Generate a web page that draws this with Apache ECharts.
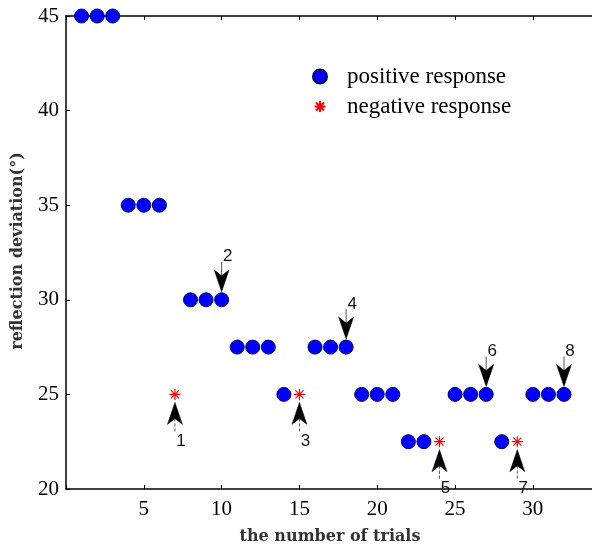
<!DOCTYPE html>
<html>
<head>
<meta charset="utf-8">
<script src="https://cdn.jsdelivr.net/npm/echarts@6/dist/echarts.min.js"></script>
<style>html,body{margin:0;padding:0;background:#fff;}#c{width:592px;height:550px;}</style>
</head>
<body>
<div id="c"></div>
<script>
var posX = [1,2,3,4,5,6,8,9,10,11,12,13,14,16,17,18,19,20,21,22,23,25,26,27,28,30,31,32];
var posY = [45,45,45,35,35,35,30,30,30,27.5,27.5,27.5,25,27.5,27.5,27.5,25,25,25,22.5,22.5,25,25,25,22.5,25,25,25];
var negX = [7,15,24,29];
var negY = [25,25,22.5,22.5];
var arrowX = [7,10,15,18,24,27,29,32];
var arrowY = [25,30,25,27.5,22.5,25,22.5,25];
var arrowDir = ['up','down','up','down','up','down','up','down'];
var arrowLabel = ['1','2','3','4','5','6','7','8'];
var xTicks = [5,10,15,20,25,30];
var yTicks = [20,25,30,35,40,45];

var posData = posX.map(function(x,i){return [x,posY[i]];});
var negData = negX.map(function(x,i){return [x,negY[i]];});
var arrowData = arrowX.map(function(x,i){return [x,arrowY[i],arrowDir[i]==='up'?1:-1,arrowLabel[i]];});

var star = 'path://M0,0M14,14M1.5,7L12.5,7M7,1.5L7,12.5M3,3L11,11M11,3L3,11';

var chart = echarts.init(document.getElementById('c'));
chart.setOption({
  animation:false,
  backgroundColor:'#fff',
  grid:{left:66,top:16,right:0,bottom:61,containLabel:false},
  xAxis:[{
    type:'value',min:0,max:33.8,interval:5,
    axisLine:{show:true,lineStyle:{color:'#000',width:1.5}},
    axisTick:{show:true,inside:true,length:4,lineStyle:{color:'#000'}},
    splitLine:{show:false},
    axisLabel:{color:'#000',fontFamily:'Liberation Serif',fontSize:21,margin:10,showMaxLabel:false,
      formatter:function(v){return xTicks.indexOf(v)>=0?String(v):'';}}
  },{
    type:'value',position:'top',min:0,max:33.8,interval:5,
    axisLine:{show:true,lineStyle:{color:'#000',width:1.5}},
    axisTick:{show:true,inside:true,length:4,lineStyle:{color:'#000'}},
    axisLabel:{show:false},splitLine:{show:false}
  }],
  yAxis:{
    type:'value',min:20,max:45,interval:5,
    axisLine:{show:true,lineStyle:{color:'#000',width:1.5}},
    axisTick:{show:true,inside:true,length:4,lineStyle:{color:'#000'}},
    splitLine:{show:false},
    axisLabel:{color:'#000',fontFamily:'Liberation Serif',fontSize:21,margin:7,
      formatter:function(v){return yTicks.indexOf(v)>=0?String(v):'';}}
  },
  legend:{
    orient:'vertical',left:307,top:60,itemWidth:44,itemHeight:14,itemGap:7,
    data:['positive response','negative response'],
    textStyle:{fontFamily:'Liberation Serif',fontSize:23,color:'#000'}
  },
  graphic:[
    {type:'text',x:330,y:537,style:{text:'the number of trials',fontFamily:'DejaVu Serif',fontWeight:'bold',fontSize:16,fill:'#333',align:'center',verticalAlign:'middle'}},
    {type:'text',x:18,y:251,rotation:Math.PI/2,style:{text:'reflection deviation(°)',fontFamily:'DejaVu Serif',fontWeight:'bold',fontSize:16,fill:'#333',align:'center',verticalAlign:'middle'}}
  ],
  series:[
    {name:'positive response',type:'scatter',data:posData,symbol:'circle',symbolSize:14,
      itemStyle:{color:'#0000ff',borderColor:'#000060',borderWidth:1,opacity:1},z:3},
    {name:'negative response',type:'scatter',data:negData,symbol:star,symbolSize:14,
      itemStyle:{color:'#ff0000',borderColor:'#ff0000',borderWidth:1.2,opacity:1},z:3},
    {name:'arrows',type:'custom',data:arrowData,z:5,clip:false,
      renderItem:function(params,api){
        var p = api.coord([api.value(0),api.value(1)]);
        var d = api.value(2);
        var tip = p[1] + d*8;
        var base = p[1] + d*30;
        var notch = p[1] + d*24;
        var tail = p[1] + d*38;
        var lab = arrowData[params.dataIndex][3];
        return {type:'group',children:[
          {type:'line',shape:{x1:p[0],y1:notch,x2:p[0],y2:tail},style:{stroke:'#555',lineWidth:1,lineDash:d>0?[3,2]:null}},
          {type:'polygon',shape:{points:[[p[0],tip],[p[0]-7.5,base],[p[0],notch],[p[0]+7.5,base]]},style:{fill:'#000',stroke:'#000',lineWidth:0.5}},
          {type:'text',x:p[0]+6,y:p[1]+d*(d>0?47:43),style:{text:lab,fontFamily:'Liberation Sans',fontSize:17,fill:'#111',align:'center',verticalAlign:'middle'}}
        ]};
      }
    }
  ]
});
</script>
</body>
</html>
